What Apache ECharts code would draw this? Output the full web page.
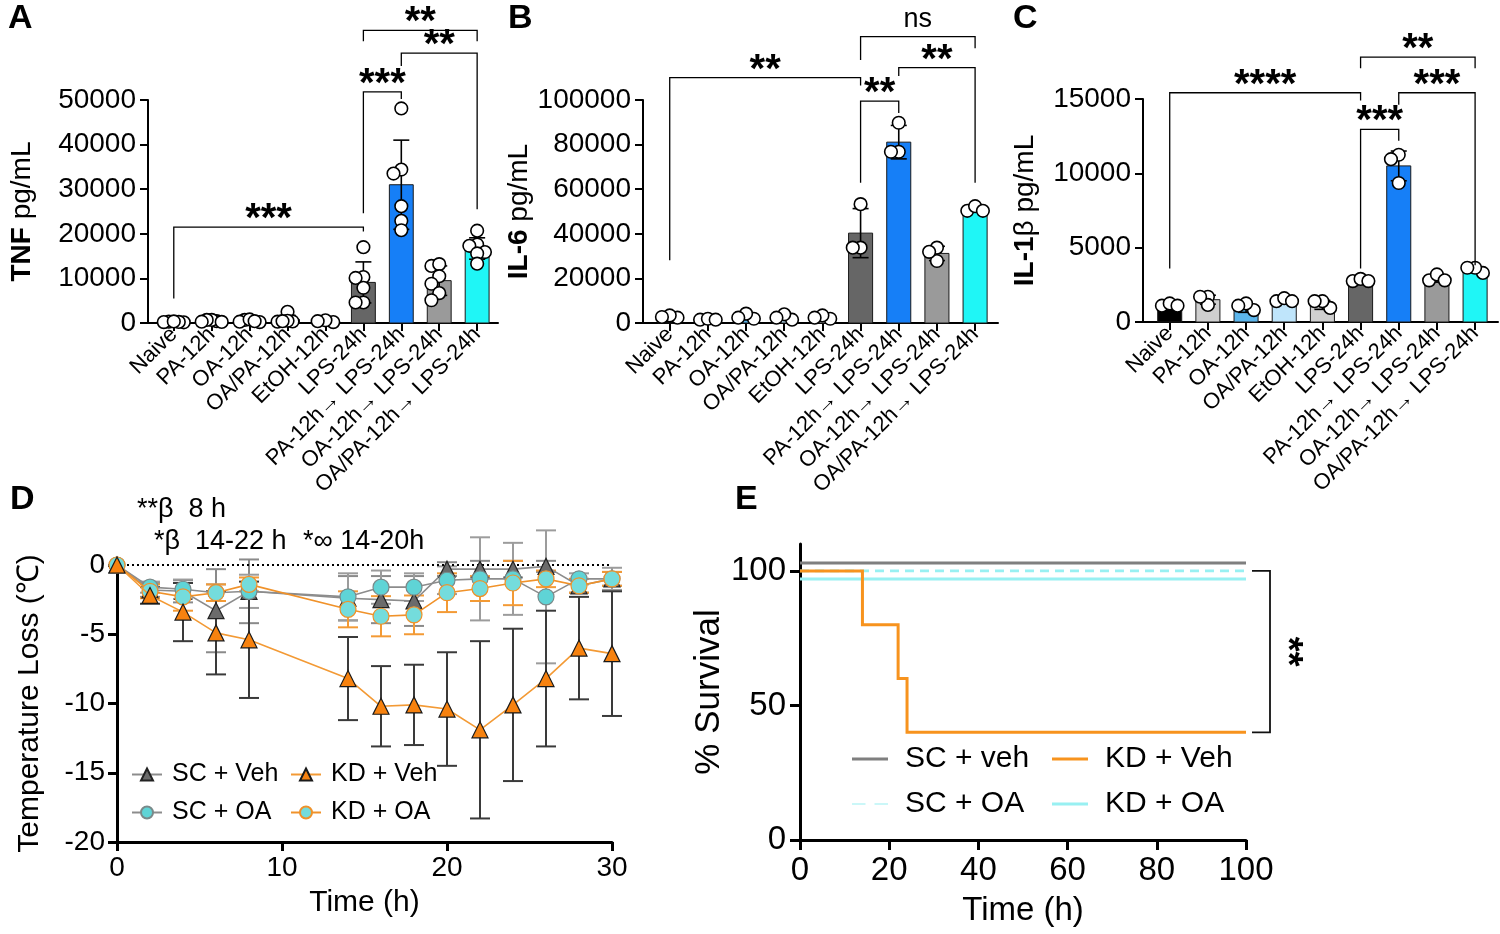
<!DOCTYPE html>
<html><head><meta charset="utf-8">
<script src="https://cdn.jsdelivr.net/npm/echarts@6/dist/echarts.min.js"></script>
<style>html,body{margin:0;padding:0;background:#fff}#c{width:1500px;height:934px}</style>
</head><body><div id="c"></div>
<script>
// ---------------- DATA ----------------
const barCategories = ['Naive','PA-12h','OA-12h','OA/PA-12h','EtOH-12h','LPS-24h',
  'PA-12h\u2192 LPS-24h','OA-12h\u2192 LPS-24h','OA/PA-12h\u2192 LPS-24h'];

const tnfMean = [250, 470, 480, 800, 400, 9100, 31000, 9500, 16700];
const tnfSD   = [100, 200, 250, 900, 200, 4600, 10000, 3300, 2400];
const tnfPoints = [
  [150,250,300,200,350],[400,700,250,700,300],[700,300,800,200,400],[2500,300,350,500,400],
  [200,600,400],[17000,10300,10100,7900,4600,4600],[48100,34400,33500,26200,22900,20800],
  [12800,13200,10500,8800,6700,5100],[20700,17600,17300,15900,15600,13300]];
const tnfBrackets = [ // from, to, line, left leg end, right leg end, label
  [0,5,21500,5500,20500,'***'],[5,6,51800,24600,50200,'***'],
  [6,8,60500,57600,25500,'**'],[5,8,65600,63200,63200,'**']];

const il6Mean = [2800, 1600, 2800, 2600, 2600, 40300, 81100, 31200, 51000];
const il6SD   = [600, 250, 1200, 1200, 800, 11000, 7500, 3200, 1200];
const il6Points = [
  [2400,3400,2700],[1500,1900,1500],[1900,4200,2400],[1500,3900,2400],[1900,3400,2400],
  [53300,33800,33800],[89800,76800,76800],[33800,27800,31900],[50300,52400,50300]];
const il6Brackets = [
  [0,5,110000,28100,106500,'**'],[5,6,99500,62900,94200,'**'],
  [6,8,114500,110800,62900,'**'],[5,8,128400,117900,123200,'ns']];

const il1Mean = [1000, 1500, 900, 1350, 1150, 2800, 10500, 2930, 3500];
const il1SD   = [150, 300, 250, 150, 300, 150, 1000, 250, 200];
const il1Points = [
  [1100,1250,1100],[1700,1150,1700],[800,1250,1100],[1400,1600,1400],[950,1400,1400],
  [2750,2900,2750],[11250,10950,9350],[2800,3200,2800],[3300,3650,3650]];
const il1Brackets = [
  [0,5,15420,3600,14900,'****'],[5,6,12960,3600,12190,'***'],
  [6,8,15420,14620,3820,'***'],[5,8,17810,17070,17070,'**']];

const timeH  = [0,2,4,6,8,14,16,18,20,22,24,26,28,30];
const scVeh   = [0,-1.8,-1.9,-3.3,-1.9,-2.4,-2.5,-2.6,-0.3,-0.3,-0.3,-0.1,-1.5,-1.0];
const scVehSD = [0,0.5,0.8,3.0,2.3,1.6,1.7,1.8,0.5,0.6,0.6,0.4,0.5,0.5];
const kdVeh   = [0,-2.2,-3.4,-4.9,-5.4,-8.2,-10.2,-10.1,-10.4,-11.9,-10.1,-8.2,-6.0,-6.4];
const kdVehSD = [0,0.6,2.1,3.0,4.2,3.0,2.9,2.9,4.1,6.4,5.5,4.9,3.7,4.5];
const scOA    = [0,-1.6,-1.75,-2.0,-1.9,-2.3,-1.6,-1.6,-1.1,-1.0,-1.0,-2.3,-1.0,-1.0];
const scOASD  = [0,0.4,0.7,0.6,1.2,1.7,1.2,1.0,1.0,3.0,2.6,4.8,0.4,0.8];
const kdOA    = [0,-1.9,-2.3,-2.0,-1.4,-3.2,-3.7,-3.6,-2.0,-1.7,-1.3,-1.0,-1.5,-1.0];
const kdOASD  = [0,0.5,1.0,0.6,0.5,1.3,1.45,1.4,1.4,0.9,1.6,0.6,0.5,0.5];

const survTimeFlat = [0,100];
const scVehSurv = [100,100];
const scOASurv  = [100,100];
const kdOASurv  = [100,100];
const kdVehTime = [0,14,22,24,100];
const kdVehSurv = [100,80,60,40,40];
const survCompare = [[100,40,'**']];

// ---------------- STYLE ----------------
const FONT = '"Liberation Sans", Arial, Helvetica, sans-serif';
const barColors = ['#000000','#cfcfcf','#5cb6ec','#bfe5fb','#cfcfcf','#666666','#167ff7','#9a9a9a','#1ff6f6'];
const idx9 = [0,1,2,3,4,5,6,7,8];

const chart = echarts.init(document.getElementById('c'));

function swarm(ys, d, maxOff){
  const order = ys.map((y,i)=>i).sort((a,b)=>ys[a]-ys[b]);
  const placed=[], off=new Array(ys.length).fill(0);
  for (const i of order){
    const c=[0]; for(let k=1;k<6;k++){c.push(-k*d,k*d);}
    for (const x of c){
      if (placed.every(p=>Math.hypot(p.x-x,p.y-ys[i])>=d)){off[i]=x;placed.push({x:x,y:ys[i]});break;}
    }
  }
  const m = Math.max(...off.map(Math.abs));
  if (m > maxOff) for (let i=0;i<off.length;i++) off[i] *= maxOff/m;
  return off;
}

function barRender(params, api){
  const i=api.value(0), v=api.value(1);
  const a=api.coord([i,0]), b=api.coord([i,v]);
  const w=api.size([0.63,0])[0];
  return {type:'rect', shape:{x:a[0]-w/2,y:b[1],width:w,height:a[1]-b[1]},
    style:{fill:barColors[i], stroke:'#1a1a1a', lineWidth:1}};
}
function errRender(color, cw, lw){
  return function(params, api){
    const x=api.value(0), m=api.value(1), s=api.value(2);
    if (!s) return null;
    const t=api.coord([x,m+s]), b=api.coord([x,m-s]);
    const st={stroke:color, lineWidth:lw};
    return {type:'group', children:[
      {type:'line', shape:{x1:t[0],y1:t[1],x2:b[0],y2:b[1]}, style:st},
      {type:'line', shape:{x1:t[0]-cw,y1:t[1],x2:t[0]+cw,y2:t[1]}, style:st},
      {type:'line', shape:{x1:b[0]-cw,y1:b[1],x2:b[0]+cw,y2:b[1]}, style:st}]};
  };
}
function pointRender(groups){
  return function(params, api){
    const c=api.value(0), v=api.value(1), j=api.value(2);
    const ys=groups[c].map(val=>api.coord([c,val])[1]);
    const off=swarm(ys, 7.8, 10);
    const p=api.coord([c,v]);
    return {type:'circle', shape:{cx:p[0]+off[j], cy:p[1], r:6.3},
      style:{fill:'#fff', stroke:'#000', lineWidth:1.6}};
  };
}
function bracketRender(list){
  return function(params, api){
    const br=list[params.dataIndex];
    const a=api.coord([br[0],br[2]]), b=api.coord([br[1],br[2]]);
    const la=api.coord([br[0],br[3]]), rb=api.coord([br[1],br[4]]);
    const isNs = br[5]==='ns';
    return {type:'group', children:[
      {type:'polyline', shape:{points:[[la[0],la[1]],[a[0],a[1]],[b[0],b[1]],[rb[0],rb[1]]]},
        style:{stroke:'#000', lineWidth:1.3, fill:null}},
      {type:'text', x:(a[0]+b[0])/2, y: isNs ? a[1]-4 : a[1]-7,
        style:{text:br[5], font: isNs ? '27px '+FONT : 'bold 40px '+FONT,
          textAlign:'center', textVerticalAlign: isNs ? 'bottom' : 'middle', fill:'#000'}}]};
  };
}

const grids = [
  {left:148, top:100, width:350, height:223},
  {left:643, top:100, width:355, height:223},
  {left:1143, top:99, width:355, height:223},
  {left:117, top:565, width:495, height:277},
  {left:800, top:544, width:446, height:296}
];

const axisLineBlack = w => ({show:true, onZero:false, lineStyle:{color:'#000', width:w}});
const tickBlack = (w,l) => ({show:true, length:l, lineStyle:{color:'#000', width:w}});
const plain = v => String(v);

const xAxes = [], yAxes = [];
const barPanels = [
  {mean:tnfMean, sd:tnfSD, pts:tnfPoints, br:tnfBrackets, max:50000, interval:10000, xmin:-0.68, xmax:8.55,
   name:'{b|TNF} pg/mL', gap:112},
  {mean:il6Mean, sd:il6SD, pts:il6Points, br:il6Brackets, max:100000, interval:20000, xmin:-0.7, xmax:8.6,
   name:'{b|IL-6} pg/mL', gap:110},
  {mean:il1Mean, sd:il1SD, pts:il1Points, br:il1Brackets, max:15000, interval:5000, xmin:-0.7, xmax:8.6,
   name:'{b|IL-1}\u03b2 pg/mL', gap:104}
];
const series = [];
barPanels.forEach((p,k)=>{
  xAxes.push({type:'value', gridIndex:k, min:p.xmin, max:p.xmax,
    axisLine:axisLineBlack(2), axisTick:Object.assign(tickBlack(2,8),{customValues:idx9}),
    axisLabel:{customValues:idx9, formatter:v=>barCategories[v], rotate:45, fontSize:22,
      fontFamily:FONT, color:'#000', margin:8},
    splitLine:{show:false}});
  yAxes.push({type:'value', gridIndex:k, min:0, max:p.max, interval:p.interval,
    axisLine:axisLineBlack(2), axisTick:tickBlack(2,8),
    axisLabel:{fontSize:28, fontFamily:FONT, color:'#000', margin:12, formatter:plain},
    splitLine:{show:false},
    name:p.name, nameLocation:'middle', nameRotate:90, nameGap:p.gap,
    nameTextStyle:{fontSize:28, fontFamily:FONT, color:'#000',
      rich:{b:{fontSize:28, fontWeight:'bold', fontFamily:FONT, color:'#000'}}}});
  series.push({type:'custom', xAxisIndex:k, yAxisIndex:k, renderItem:barRender, clip:false,
    data:p.mean.map((v,i)=>[i,v]), z:2});
  series.push({type:'custom', xAxisIndex:k, yAxisIndex:k, renderItem:errRender('#000',8,1.6), clip:false,
    data:p.mean.map((v,i)=>[i,v,p.sd[i]]), z:3});
  const pd=[]; p.pts.forEach((g,i)=>g.forEach((v,j)=>pd.push([i,v,j])));
  series.push({type:'custom', xAxisIndex:k, yAxisIndex:k, renderItem:pointRender(p.pts), clip:false, data:pd, z:4});
  series.push({type:'custom', xAxisIndex:k, yAxisIndex:k, renderItem:bracketRender(p.br), clip:false,
    data:p.br.map(b=>[b[0],b[2]]), z:5});
});

// Panel D
xAxes.push({type:'value', gridIndex:3, min:0, max:30, interval:10,
  axisLine:axisLineBlack(3), axisTick:tickBlack(3,9),
  axisLabel:{fontSize:28, fontFamily:FONT, color:'#000', margin:12}, splitLine:{show:false},
  name:'Time (h)', nameLocation:'middle', nameGap:46,
  nameTextStyle:{fontSize:30, fontFamily:FONT, color:'#000'}});
yAxes.push({type:'value', gridIndex:3, min:-20, max:0, interval:5,
  axisLine:axisLineBlack(3), axisTick:tickBlack(3,9),
  axisLabel:{fontSize:28, fontFamily:FONT, color:'#000', margin:12}, splitLine:{show:false},
  name:'Temperature Loss (\u2103)', nameLocation:'middle', nameRotate:90, nameGap:72,
  nameTextStyle:{fontSize:30, fontFamily:FONT, color:'#000'}});

const dGroups = [
  {name:'SC + Veh', v:scVeh, sd:scVehSD, sym:'triangle', fill:'#6b6b6b', edge:'#222', line:'#8c8c8c', err:'#8a8a8a'},
  {name:'SC + OA', v:scOA, sd:scOASD, sym:'circle', fill:'#5fd4d6', edge:'#7a8a8a', line:'#8c8c8c', err:'#9c9c9c'},
  {name:'KD + OA', v:kdOA, sd:kdOASD, sym:'circle', fill:'#74dcdc', edge:'#f0922a', line:'#f0922a', err:'#f39a35'},
  {name:'KD + Veh', v:kdVeh, sd:kdVehSD, sym:'triangle', fill:'#f7820f', edge:'#1a1a1a', line:'#f39a35', err:'#3a3a3a'}
];
dGroups.forEach((g,k)=>{
  series.push({type:'custom', xAxisIndex:3, yAxisIndex:3, renderItem:errRender(g.err,10,2), clip:false,
    data:timeH.map((t,i)=>[t,g.v[i],g.sd[i]]), z:2+k});
});
dGroups.forEach((g,k)=>{
  const s = {type:'line', name:g.name, xAxisIndex:3, yAxisIndex:3, data:timeH.map((t,i)=>[t,g.v[i]]),
    symbol:g.sym, symbolSize:16, showAllSymbol:true,
    lineStyle:{color:g.line, width:1.6}, itemStyle:{color:g.fill, borderColor:g.edge, borderWidth:1.2},
    emphasis:{disabled:true}, z:10+k, animation:false};
  if (k===0) s.markLine = {silent:true, symbol:['none','none'], label:{show:false},
    lineStyle:{color:'#000', type:[2,3], width:2}, data:[{yAxis:0}], animation:false};
  series.push(s);
});

// Panel E
xAxes.push({type:'value', gridIndex:4, min:0, max:100, interval:20,
  axisLine:axisLineBlack(3), axisTick:tickBlack(3,10),
  axisLabel:{fontSize:33, fontFamily:FONT, color:'#000', margin:14}, splitLine:{show:false},
  name:'Time (h)', nameLocation:'middle', nameGap:54,
  nameTextStyle:{fontSize:33, fontFamily:FONT, color:'#000'}});
yAxes.push({type:'value', gridIndex:4, min:0, max:110,
  axisLine:axisLineBlack(3), axisTick:Object.assign(tickBlack(3,10),{customValues:[0,50,100]}),
  axisLabel:{customValues:[0,50,100], fontSize:33, fontFamily:FONT, color:'#000', margin:14},
  splitLine:{show:false},
  name:'% Survival', nameLocation:'middle', nameRotate:90, nameGap:66,
  nameTextStyle:{fontSize:35, fontFamily:FONT, color:'#000'}});

const E_PREFIX = 'E\u00a0';
const eGroups = [
  {name:'SC + veh', t:survTimeFlat, s:scVehSurv, color:'#7f7f7f', dash:null, off:-8, w:3},
  {name:'SC + OA', t:survTimeFlat, s:scOASurv, color:'#98f0f2', dash:[9,6], off:0, w:2.6},
  {name:'KD + OA', t:survTimeFlat, s:kdOASurv, color:'#98f0f2', dash:null, off:8, w:3},
  {name:'KD + Veh', t:kdVehTime, s:kdVehSurv, color:'#f7931e', dash:null, off:0, w:3}
];
eGroups.forEach((g,k)=>{
  series.push({type:'custom', name:E_PREFIX+g.name, xAxisIndex:4, yAxisIndex:4, clip:false,
    itemStyle:{color:g.color},
    data:g.t.map((t,i)=>[t,g.s[i]]),
    renderItem:function(params, api){
      if (params.dataIndex!==0) return null;
      const pts=[];
      for (let i=0;i<g.t.length;i++){
        const p=api.coord([g.t[i],g.s[i]]);
        if (i>0){ const q=api.coord([g.t[i],g.s[i-1]]); pts.push([q[0],q[1]+g.off]); }
        pts.push([p[0],p[1]+g.off]);
      }
      return {type:'polyline', shape:{points:pts},
        style:{stroke:g.color, lineWidth:g.w, fill:null, lineDash:g.dash}};
    }, z:5+k});
});
series.push({type:'custom', xAxisIndex:4, yAxisIndex:4, clip:false, data:survCompare.map(c=>[c[0],c[1]]),
  renderItem:function(params, api){
    const c=survCompare[params.dataIndex];
    const a=api.coord([100,c[0]]), b=api.coord([100,c[1]]);
    const x=a[0]+24, x0=a[0]+6;
    return {type:'group', children:[
      {type:'polyline', shape:{points:[[x0,a[1]],[x,a[1]],[x,b[1]],[x0,b[1]]]}, style:{stroke:'#111', lineWidth:1.8, fill:null}},
      {type:'text', x:x+16, y:(a[1]+b[1])/2, rotation:-Math.PI/2,
        style:{text:c[2], font:'bold 38px '+FONT, textAlign:'center', textVerticalAlign:'middle', fill:'#000'}}]};
  }});

function legendD(name, left, top){
  return {data:[name], left:left, top:top, padding:0, itemWidth:30, itemHeight:15, itemGap:0,
    textStyle:{fontSize:25, fontFamily:FONT, color:'#000', padding:[0,0,0,5]}, selectedMode:false};
}
function legendE(name, icon, left, top){
  return {data:[{name:E_PREFIX+name, icon:icon}], left:left, top:top, padding:0, itemWidth:36, itemHeight:3, itemGap:0,
    formatter: n => n.slice(E_PREFIX.length),
    textStyle:{fontSize:30, fontFamily:FONT, color:'#000', padding:[0,0,0,12]}, selectedMode:false};
}
const dashIcon = 'path://M0,0H12V1H0Z M20,0H32V1H20Z';

const option = {
  animation:false,
  textStyle:{fontFamily:FONT},
  grid:grids,
  xAxis:xAxes, yAxis:yAxes, series:series,
  legend:[
    legendD('SC + Veh',131,762), legendD('KD + Veh',290,762),
    legendD('SC + OA',131,800), legendD('KD + OA',290,800),
    legendE('SC + veh','rect',852,744), legendE('KD + Veh','rect',1052,744),
    legendE('SC + OA',dashIcon,852,789), legendE('KD + OA','rect',1052,789)
  ],
  graphic:[
    {type:'text', left:8, top:2, style:{text:'A', font:'bold 34px '+FONT, fill:'#000'}},
    {type:'text', left:508, top:2, style:{text:'B', font:'bold 34px '+FONT, fill:'#000'}},
    {type:'text', left:1013, top:2, style:{text:'C', font:'bold 34px '+FONT, fill:'#000'}},
    {type:'text', left:10, top:483, style:{text:'D', font:'bold 34px '+FONT, fill:'#000'}},
    {type:'text', left:735, top:483, style:{text:'E', font:'bold 34px '+FONT, fill:'#000'}},
    {type:'text', left:137, top:496, style:{text:'**\u03b2  8 h', font:'27px '+FONT, fill:'#000'}},
    {type:'text', left:154, top:528, style:{text:'*\u03b2  14-22 h', font:'27px '+FONT, fill:'#000'}},
    {type:'text', left:303, top:528, style:{text:'*\u221e 14-20h', font:'27px '+FONT, fill:'#000'}}
  ]
};
chart.setOption(option);
</script></body></html>
